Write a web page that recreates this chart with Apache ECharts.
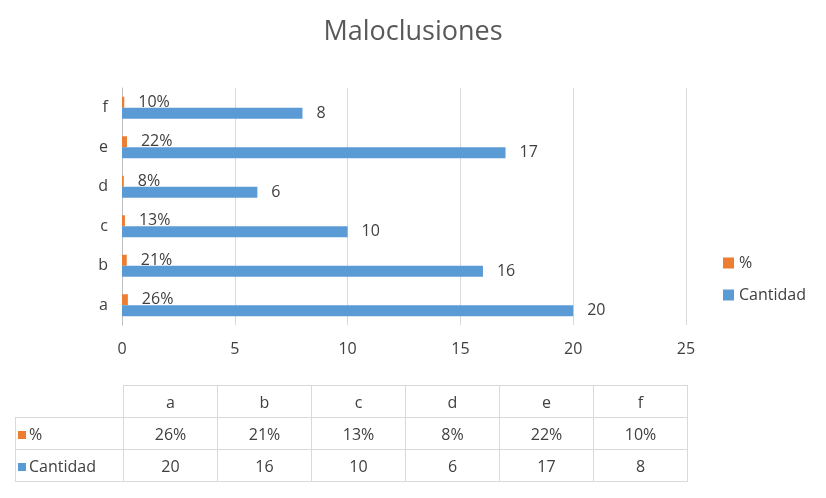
<!DOCTYPE html>
<html><head><meta charset="utf-8">
<script src="https://cdn.jsdelivr.net/npm/echarts@6/dist/echarts.min.js"></script>
<style>
body{margin:0;background:#fff;font-family:"Open Sans","Noto Sans",sans-serif;}
#c{width:826px;height:498px;position:absolute;left:0;top:0;}
table{position:absolute;left:15px;top:385px;border-collapse:collapse;color:#404040;font-size:16px;}
td{border:1px solid #d9d9d9;height:31px;text-align:center;width:93px;padding:0;}
td.h{width:105px;text-align:left;padding-left:2px;}
td.e{border-top:none;border-left:none;}
.sq{display:inline-block;width:8px;height:8px;margin-right:3px;vertical-align:middle;}
</style></head><body>
<div id="c"></div>
<table id="t"></table>
<script>
const categories = ['a', 'b', 'c', 'd', 'e', 'f'];
const pctValues = [0.26, 0.21, 0.13, 0.08, 0.22, 0.10];
const cantidadValues = [20, 16, 10, 6, 17, 8];
const pctLabels = ['26%', '21%', '13%', '8%', '22%', '10%'];

const COLORS = { orange: '#ED7D31', blue: '#5B9BD5', text: '#404040' };

const chart = echarts.init(document.getElementById('c'));
chart.setOption({
    animation: false,
    title: { text: 'Maloclusiones', left: 'center', top: 14, textStyle: { fontSize: 27, fontWeight: 'normal', color: '#595959', fontFamily: 'Open Sans' } },
    legend: {
        orient: 'vertical', left: 718, top: 250, itemGap: 16, itemWidth: 11, itemHeight: 11,
        icon: 'rect', data: ['%', 'Cantidad'],
        textStyle: { fontSize: 16, color: COLORS.text, fontFamily: 'Open Sans' }
    },
    grid: { left: 122, right: 140, top: 88, bottom: 173 },
    xAxis: {
        type: 'value', min: 0, max: 25, interval: 5,
        axisLabel: { fontSize: 16, color: COLORS.text, margin: 16, fontFamily: 'Open Sans' },
        splitLine: { lineStyle: { color: '#d9d9d9' } }
    },
    yAxis: {
        type: 'category', data: categories,
        axisTick: { show: false },
        axisLine: { lineStyle: { color: '#bfbfbf' } },
        axisLabel: { fontSize: 16, color: COLORS.text, margin: 14, fontFamily: 'Open Sans' }
    },
    series: [
        {
            name: '%', type: 'bar', data: pctValues, barWidth: 11, barGap: '0%',
            itemStyle: { color: COLORS.orange },
            label: { show: true, position: 'right', distance: 14, fontSize: 16, color: COLORS.text, fontFamily: 'Open Sans',
                formatter: p => pctLabels[p.dataIndex] }
        },
        {
            name: 'Cantidad', type: 'bar', data: cantidadValues, barWidth: 11,
            itemStyle: { color: COLORS.blue },
            label: { show: true, position: 'right', distance: 14, fontSize: 16, color: COLORS.text, fontFamily: 'Open Sans' }
        }
    ]
});

// ========== 数据表 ==========
const t = document.getElementById('t');
let html = '<tr><td class="h e"></td>' + categories.map(c => `<td>${c}</td>`).join('') + '</tr>';
html += `<tr><td class="h"><span class="sq" style="background:${COLORS.orange}"></span>%</td>` + pctLabels.map(v => `<td>${v}</td>`).join('') + '</tr>';
html += `<tr><td class="h"><span class="sq" style="background:${COLORS.blue}"></span>Cantidad</td>` + cantidadValues.map(v => `<td>${v}</td>`).join('') + '</tr>';
t.innerHTML = html;
</script>
</body></html>
